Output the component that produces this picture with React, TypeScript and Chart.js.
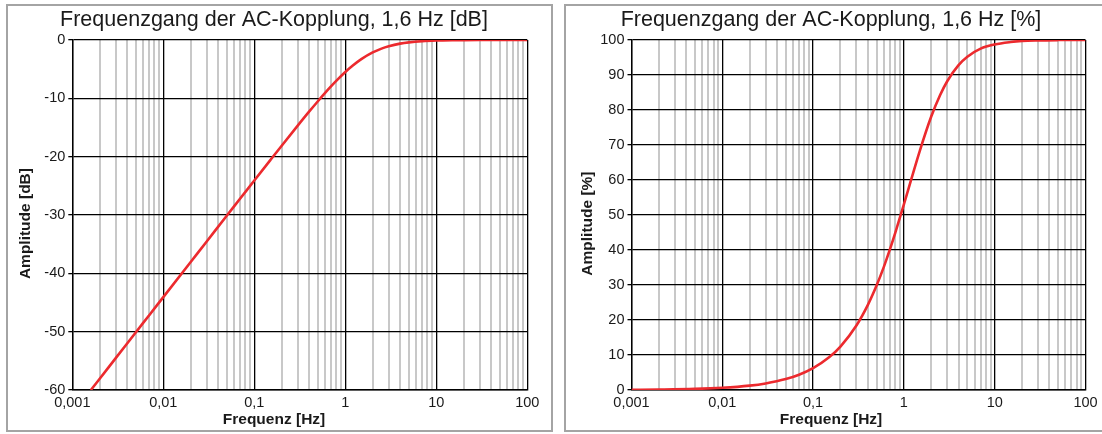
import React, { useEffect, useRef } from "react";
import { Chart, registerables } from "chart.js";

Chart.register(...registerables);

// ---- Data ----
const decadeValues = [0.001, 0.01, 0.1, 1, 10, 100];
const decadeLabels = ["0,001", "0,01", "0,1", "1", "10", "100"];
const minorSteps = [1, 2, 3, 4, 5, 6, 7, 8, 9];

// Left panel: amplitude in dB
const freqDb = [
  0.0016, 0.002, 0.003, 0.005, 0.007, 0.01, 0.02, 0.03, 0.05, 0.07, 0.1, 0.15, 0.2, 0.3, 0.4, 0.5,
  0.6, 0.7, 0.8, 1, 1.2, 1.5, 2, 2.5, 3, 4, 5, 7, 10, 15, 20, 30, 50, 100,
];
const ampDb = [
  -60.0, -58.06, -54.54, -50.1, -47.18, -44.08, -38.06, -34.54, -30.1, -27.19, -24.1, -20.6, -18.13,
  -14.69, -12.3, -10.51, -9.09, -7.94, -6.99, -5.51, -4.44, -3.3, -2.15, -1.49, -1.09, -0.64, -0.42,
  -0.22, -0.11, -0.05, -0.03, -0.01, 0, 0,
];

// Right panel: amplitude in %
const freqPct = [
  0.001, 0.002, 0.005, 0.01, 0.02, 0.03, 0.05, 0.07, 0.1, 0.15, 0.2, 0.3, 0.4, 0.5, 0.6, 0.7, 0.8, 1,
  1.2, 1.5, 2, 2.5, 3, 4, 5, 7, 10, 15, 20, 30, 50, 100,
];
const ampPct = [
  0.06, 0.13, 0.31, 0.63, 1.25, 1.88, 3.12, 4.37, 6.24, 9.33, 12.4, 18.43, 24.25, 29.83, 35.11, 40.08,
  44.72, 53.0, 60.0, 68.4, 78.1, 84.2, 88.2, 92.8, 95.2, 97.5, 98.7, 99.4, 99.7, 99.86, 99.95, 100.0,
];

const yTicksDb = [-60, -50, -40, -30, -20, -10, 0];
const yTicksPct = [0, 10, 20, 30, 40, 50, 60, 70, 80, 90, 100];

const titleDb = "Frequenzgang der AC-Kopplung, 1,6 Hz [dB]";
const titlePct = "Frequenzgang der AC-Kopplung, 1,6 Hz [%]";
const xTitle = "Frequenz [Hz]";
const yTitleDb = "Amplitude [dB]";
const yTitlePct = "Amplitude [%]";

// ---- Styling ----
const FONT = "'Liberation Sans', Arial, Helvetica, sans-serif";
const TEXT = "#1a1a1a";
const RED = "#ec2a2e";
const MINOR = "#c8c8c8";

const xTickValues: number[] = [];
decadeValues.slice(0, -1).forEach((d) => minorSteps.forEach((m) => xTickValues.push(+(d * m).toPrecision(6))));
xTickValues.push(decadeValues[decadeValues.length - 1]);

function decadeIndex(v: number | undefined): number {
  if (v === undefined) return -1;
  return decadeValues.findIndex((d) => Math.abs(v - d) / d < 1e-6);
}

type PanelOpts = {
  title: string;
  yTitle: string;
  freq: number[];
  amp: number[];
  yTicks: number[];
  yWidth: number;
  yTitlePad: number;
  rightPad: number;
  layoutRight: number;
  canvasWidth: number;
};

function makeConfig(o: PanelOpts): any {
  return {
    type: "line",
    data: {
      datasets: [
        {
          data: o.freq.map((f, i) => ({ x: f, y: o.amp[i] })),
          borderColor: RED,
          borderWidth: 2.6,
          pointRadius: 0,
          cubicInterpolationMode: "monotone",
          fill: false,
        },
      ],
    },
    options: {
      responsive: false,
      animation: false,
      events: [],
      layout: { padding: { left: 0, top: 0, bottom: 0, right: o.layoutRight } },
      plugins: {
        legend: { display: false },
        tooltip: { enabled: false },
        title: {
          display: true,
          text: o.title,
          color: TEXT,
          font: { family: FONT, size: 21.5, weight: "normal", lineHeight: 1.2 },
          padding: { top: 1.3, bottom: 6.8 },
        },
        subtitle: {
          display: true,
          position: "bottom",
          text: xTitle,
          color: TEXT,
          font: { family: FONT, size: 15.5, weight: "bold", lineHeight: 1.2 },
          padding: { top: 0, bottom: 1.4 },
        },
      },
      scales: {
        x: {
          type: "logarithmic",
          min: decadeValues[0],
          max: decadeValues[decadeValues.length - 1],
          afterBuildTicks: (s: any) => {
            s.ticks = xTickValues.map((v) => ({ value: v }));
          },
          afterFit: (s: any) => {
            s.height = 20;
            s.paddingLeft = 0;
            s.paddingRight = o.rightPad;
          },
          ticks: {
            autoSkip: false,
            maxRotation: 0,
            minRotation: 0,
            padding: 4.5,
            color: TEXT,
            font: { family: FONT, size: 14.5 },
            callback: (v: any) => {
              const i = decadeIndex(Number(v));
              return i >= 0 ? decadeLabels[i] : "";
            },
          },
          grid: {
            drawTicks: false,
            color: (ctx: any) => (decadeIndex(ctx.tick?.value) >= 0 ? "#000" : MINOR),
            lineWidth: (ctx: any) => (decadeIndex(ctx.tick?.value) >= 0 ? 1.3 : 2),
          },
          border: { display: true, color: "#000", width: 1.4 },
        },
        y: {
          type: "linear",
          min: o.yTicks[0],
          max: o.yTicks[o.yTicks.length - 1],
          afterBuildTicks: (s: any) => {
            s.ticks = o.yTicks.map((v) => ({ value: v }));
          },
          afterFit: (s: any) => {
            s.width = o.yWidth;
            s.paddingTop = 0;
            s.paddingBottom = 0;
          },
          ticks: {
            padding: 3,
            color: TEXT,
            font: { family: FONT, size: 14.5 },
            callback: (v: any) => String(v),
          },
          grid: {
            color: "#000",
            lineWidth: 1.3,
            drawTicks: true,
            tickLength: 4,
            tickColor: "#000",
          },
          border: { display: true, color: "#000", width: 1.4 },
          title: {
            display: true,
            text: o.yTitle + "    ",
            color: TEXT,
            font: { family: FONT, size: 15.5, weight: "bold", lineHeight: 1.2 },
            padding: { top: o.yTitlePad, bottom: 0 },
          },
        },
      },
    },
  };
}

function Panel({ opts, left }: { opts: PanelOpts; left: number }) {
  const ref = useRef<HTMLCanvasElement | null>(null);
  useEffect(() => {
    if (!ref.current) return;
    const chart = new Chart(ref.current, makeConfig(opts));
    return () => chart.destroy();
  }, []);
  return (
    <div
      style={{
        position: "absolute",
        left,
        top: 4,
        width: 547,
        height: 428,
        border: "2px solid #a4a4a4",
        boxSizing: "border-box",
        background: "#fff",
      }}
    >
      <canvas
        ref={ref}
        width={opts.canvasWidth}
        height={424}
        style={{ position: "absolute", left: 0, top: 0, width: opts.canvasWidth, height: 424 }}
      />
    </div>
  );
}

export default function App() {
  const leftOpts: PanelOpts = {
    title: titleDb,
    yTitle: yTitleDb,
    freq: freqDb,
    amp: ampDb,
    yTicks: yTicksDb,
    yWidth: 64.3,
    yTitlePad: 8,
    rightPad: 12.7,
    layoutRight: 0,
    canvasWidth: 532,
  };
  const rightOpts: PanelOpts = {
    title: titlePct,
    yTitle: yTitlePct,
    freq: freqPct,
    amp: ampPct,
    yTicks: yTicksPct,
    yWidth: 65.5,
    yTitlePad: 12,
    rightPad: 20.5,
    layoutRight: 10,
    canvasWidth: 540,
  };
  return (
    <div style={{ position: "fixed", left: 0, top: 0, width: 1102, height: 434, overflow: "hidden", background: "#fff" }}>
      <Panel opts={leftOpts} left={6} />
      <Panel opts={rightOpts} left={564} />
    </div>
  );
}
